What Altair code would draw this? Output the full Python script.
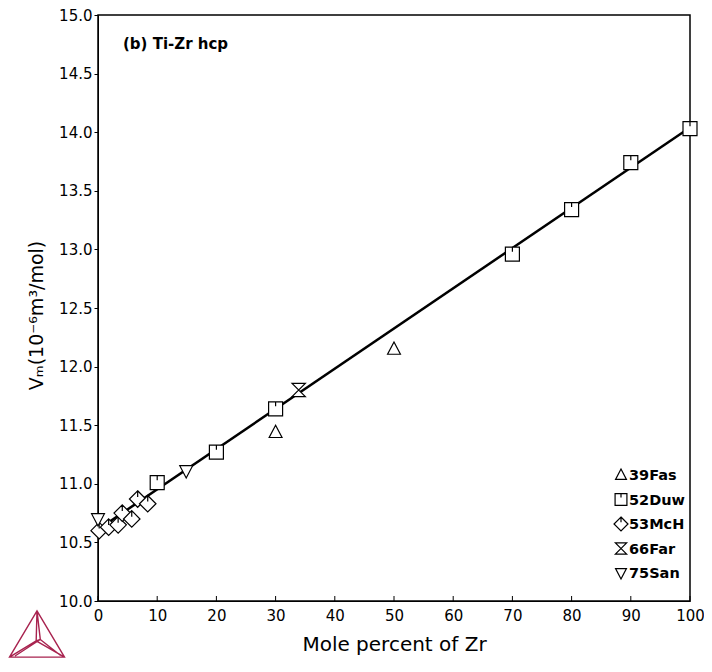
import altair as alt
import pandas as pd

# ---- data ----
sources = ["39Fas", "52Duw", "53McH", "66Far", "75San"]

fas_x = [30, 50]
fas_y = [11.44, 12.15]

duw_x = [10, 20, 30, 70, 80, 90, 100]
duw_y = [11.01, 11.27, 11.64, 12.96, 13.34, 13.74, 14.03]

mch_x = [0.2, 1.8, 3.4, 4.1, 5.7, 6.7, 8.4]
mch_y = [10.60, 10.63, 10.65, 10.75, 10.70, 10.87, 10.83]

far_x = [33.9]
far_y = [11.80]

san_x = [0, 14.9]
san_y = [10.70, 11.11]

line_x = [0, 100]
line_y = [10.61, 14.04]

x_ticks = [0, 10, 20, 30, 40, 50, 60, 70, 80, 90, 100]
y_ticks = [10.0, 10.5, 11.0, 11.5, 12.0, 12.5, 13.0, 13.5, 14.0, 14.5, 15.0]

title_text = "(b) Ti-Zr hcp"
x_title = "Mole percent of Zr"
y_title = "Vₘ(10⁻⁶m³/mol)"

# ---- tables ----
rows = []
for name, xs, ys in [("39Fas", fas_x, fas_y), ("52Duw", duw_x, duw_y),
                     ("53McH", mch_x, mch_y), ("66Far", far_x, far_y),
                     ("75San", san_x, san_y)]:
    for a, b in zip(xs, ys):
        rows.append({"source": name, "x": a, "y": b})
pts = pd.DataFrame(rows)
line_df = pd.DataFrame({"x": line_x, "y": line_y})
tick_df = pd.DataFrame({"x": x_ticks})
title_df = pd.DataFrame({"t": [title_text]})
logo_df = pd.DataFrame({"a": [0]})
legend_df = pd.DataFrame({"source": sources, "idx": list(range(len(sources)))})

shape_paths = [
    "M0,-1L0.92,0.75L-0.92,0.75Z",
    "M-1,-1L1,-1L1,1L-1,1Z M0,-1L0,-0.35",
    "M0,-1.18L1.18,0L0,1.18L-1.18,0Z M0,-1.18L0,-0.3",
    "M-0.95,-0.95L0.95,-0.95L-0.95,0.95L0.95,0.95Z",
    "M0,1L0.92,-0.75L-0.92,-0.75Z",
]

logo_path = ("M0,-0.84L1,0.84L-1,0.84Z "
             "M0,-0.84L-0.03,0.25L-1,0.84 M-0.03,0.25L1,0.84 "
             "M0,-0.84L0.12,0.2L-0.8,0.8 M0.12,0.2L0.86,0.78 "
             "M-0.03,0.25L0.12,0.2")

W, H = 592, 586
FONT = "DejaVu Sans"

xs = alt.Scale(domain=[0, 100], nice=False, zero=False)
ys = alt.Scale(domain=[10, 15], nice=False, zero=False)
shape_scale = alt.Scale(domain=sources, range=shape_paths)

x_axis = alt.Axis(values=x_ticks, ticks=False, labelPadding=7, labelFontSize=15,
                  title=x_title, titleFontSize=20, titleFontWeight="normal",
                  titlePadding=11, grid=False, domainColor="black",
                  labelColor="black", titleColor="black", labelFlush=False)
y_axis = alt.Axis(values=y_ticks, format=".1f", tickSize=4, tickColor="black",
                  labelPadding=2, labelFontSize=15, title=y_title,
                  titleFontSize=19, titleFontWeight="normal", titlePadding=12,
                  titleY=300,
                  grid=False, domainColor="black", labelColor="black",
                  titleColor="black", labelFlush=False)

line = alt.Chart(line_df).mark_line(color="black", strokeWidth=2.5).encode(
    x=alt.X("x:Q", scale=xs, axis=x_axis),
    y=alt.Y("y:Q", scale=ys, axis=y_axis),
)

ticks = alt.Chart(tick_df).mark_rule(color="black", strokeWidth=1).encode(
    x=alt.X("x:Q", scale=xs),
    y=alt.value(H),
    y2=alt.value(H - 5),
)

points = alt.Chart(pts).mark_point(
    fill="white", stroke="black", strokeWidth=1.2, opacity=1, fillOpacity=1,
    size=196, filled=False
).encode(
    x=alt.X("x:Q", scale=xs),
    y=alt.Y("y:Q", scale=ys),
    shape=alt.Shape("source:N", scale=shape_scale, legend=None),
)

# legend drawn as its own layer near the bottom-right corner
leg_sym = alt.Chart(legend_df).transform_calculate(
    off="datum.idx * 24.5"
).mark_point(
    fill="white", stroke="black", strokeWidth=1.2, opacity=1, fillOpacity=1,
    size=140, filled=False
).encode(
    x=alt.value(523),
    y=alt.value(460),
    yOffset=alt.YOffset("off:Q", scale=None),
    shape=alt.Shape("source:N", scale=shape_scale, legend=None),
)

leg_txt = alt.Chart(legend_df).transform_calculate(
    off="datum.idx * 24.5"
).mark_text(
    align="left", baseline="middle", fontSize=14.5, fontWeight="bold",
    font=FONT, color="black"
).encode(
    x=alt.value(531),
    y=alt.value(461),
    yOffset=alt.YOffset("off:Q", scale=None),
    text="source:N",
)

title = alt.Chart(title_df).mark_text(
    align="left", baseline="middle", fontSize=15, fontWeight="bold",
    font=FONT, color="black"
).encode(text="t:N", x=alt.value(25), y=alt.value(29))

logo = alt.Chart(logo_df).mark_point(
    shape=logo_path, size=3025, filled=False, color="#A8234F",
    strokeWidth=1.4, opacity=1
).encode(x=alt.value(-61), y=alt.value(619))

chart = alt.layer(line, ticks, points, leg_sym, leg_txt, title, logo).properties(
    width=W, height=H,
    autosize=alt.AutoSizeParams(type="none"),
    padding={"left": 90, "top": 7, "right": 14, "bottom": 57},
).configure(font=FONT).configure_view(stroke="black", strokeWidth=1.5)

chart.save("out.html", embed_options={"renderer": "svg", "actions": False})
